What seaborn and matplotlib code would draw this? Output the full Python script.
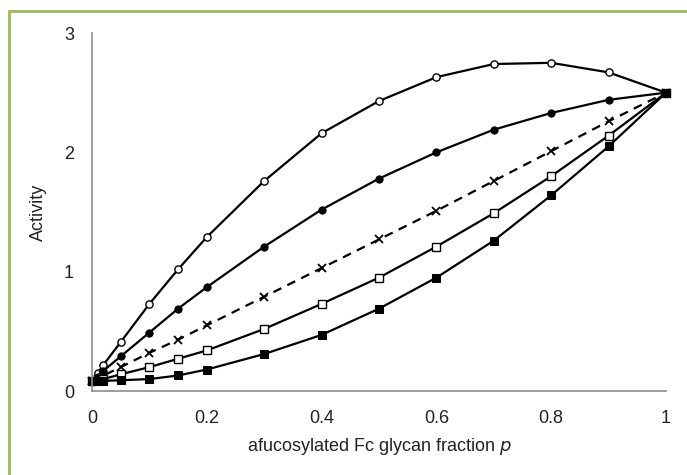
import matplotlib
matplotlib.use("Agg")
import matplotlib.pyplot as plt
import seaborn as sns
import pandas as pd
from matplotlib.patches import Rectangle

# fraction of afucosylated Fc glycan
p = [0, 0.01, 0.02, 0.05, 0.1, 0.15, 0.2, 0.3, 0.4, 0.5, 0.6, 0.7, 0.8, 0.9, 1.0]

# activity, one list per curve
open_circle = [0.08, 0.15, 0.22, 0.41, 0.73, 1.02, 1.29, 1.76, 2.16, 2.43, 2.63, 2.74, 2.75, 2.67, 2.50]
filled_circle = [0.08, 0.12, 0.17, 0.29, 0.49, 0.69, 0.87, 1.21, 1.52, 1.78, 2.00, 2.19, 2.33, 2.44, 2.50]
cross = [0.08, 0.10, 0.13, 0.20, 0.32, 0.43, 0.55, 0.79, 1.03, 1.27, 1.51, 1.76, 2.01, 2.26, 2.50]
open_square = [0.08, 0.09, 0.10, 0.14, 0.20, 0.27, 0.34, 0.52, 0.73, 0.95, 1.21, 1.49, 1.80, 2.14, 2.50]
filled_square = [0.08, 0.08, 0.085, 0.09, 0.10, 0.13, 0.18, 0.31, 0.47, 0.69, 0.95, 1.26, 1.64, 2.05, 2.50]

x_ticks = [0, 0.2, 0.4, 0.6, 0.8, 1]
x_tick_labels = ["0", "0.2", "0.4", "0.6", "0.8", "1"]
y_ticks = [0, 1, 2, 3]

sns.set_style("white")
plt.rcParams['font.family'] = ['Liberation Sans', 'DejaVu Sans']

fig = plt.figure(figsize=(6.87, 4.75), dpi=100)
ax = fig.add_axes([92 / 687, 1 - 391 / 475, (666 - 92) / 687, (391 - 33) / 475])

# green frame round the picture
fig.patches.append(Rectangle((9 / 687, -0.1), 1.2, 1 - 11 / 475 + 0.1,
                             transform=fig.transFigure, fill=False,
                             edgecolor='#9bbb59', linewidth=2, zorder=0))

common = dict(color='black', linewidth=1.6, markersize=5.2, clip_on=False, ax=ax)
sns.lineplot(x=p, y=open_circle, marker='o', markerfacecolor='white',
             markeredgecolor='black', markeredgewidth=1, **common)
sns.lineplot(x=p, y=filled_circle, marker='o', markerfacecolor='black',
             markeredgecolor='black', **common)
sns.lineplot(x=p, y=cross, marker='x', linestyle=(0, (4, 3)),
             markeredgecolor='black', markeredgewidth=1.3, **common)
sns.lineplot(x=p, y=open_square, marker='s', markerfacecolor='white',
             markeredgecolor='black', markeredgewidth=1, **common)
sns.lineplot(x=p, y=filled_square, marker='s', markerfacecolor='black',
             markeredgecolor='black', **common)

ax.set_xlim(0, 1)
ax.set_ylim(0, 3)
ax.set_xticks(x_ticks)
ax.set_xticklabels(x_tick_labels)
ax.set_yticks(y_ticks)

sns.despine(ax=ax)
for side in ['left', 'bottom']:
    ax.spines[side].set_color('#8c8c8c')
    ax.spines[side].set_linewidth(1.2)
ax.spines['left'].set_bounds(0, 3)
ax.tick_params(direction='in', length=5, width=1.2, color='#8c8c8c',
               labelsize=13, pad=14, labelcolor='#222222')
ax.tick_params(axis='y', pad=13)

ax.set_xlabel('afucosylated Fc glycan fraction $\\it{p}$', fontsize=13, labelpad=6, color='#222222')
ax.set_ylabel('Activity', fontsize=13, labelpad=12, color='#222222')

fig.savefig('out.png', dpi=100)
